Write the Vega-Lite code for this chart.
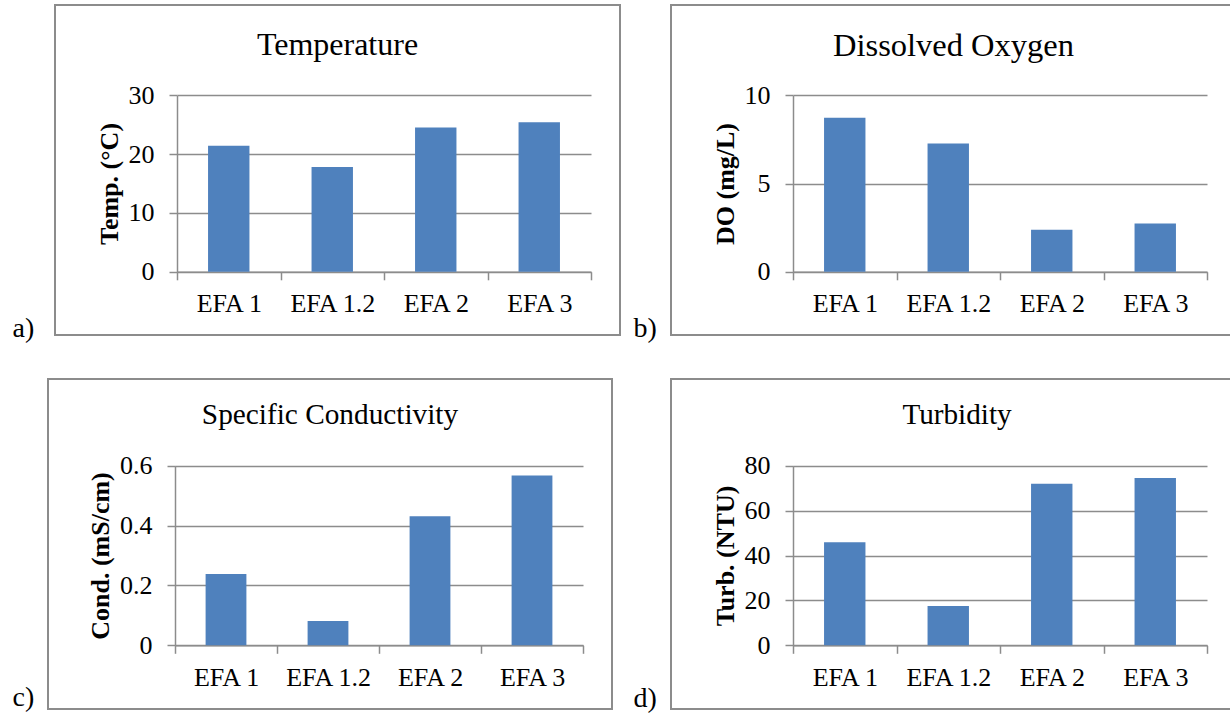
{
  "$schema": "https://vega.github.io/schema/vega-lite/v6.json",
  "background": "white",
  "padding": {"left": 11, "top": 4, "right": 0, "bottom": 0},
  "data": {"values": [
    {"site": "EFA 1", "temp": 21.4, "do": 8.72, "cond": 0.238, "turb": 45.9},
    {"site": "EFA 1.2", "temp": 17.8, "do": 7.26, "cond": 0.081, "turb": 17.5},
    {"site": "EFA 2", "temp": 24.5, "do": 2.38, "cond": 0.431, "turb": 72.0},
    {"site": "EFA 3", "temp": 25.4, "do": 2.73, "cond": 0.567, "turb": 74.5}
  ]},
  "config": {
    "view": {"stroke": "#8c8c8c", "strokeWidth": 2},
    "font": "Liberation Serif",
    "title": {"font": "Liberation Serif", "fontSize": 30, "fontWeight": "normal", "color": "black", "anchor": "middle", "frame": "group", "baseline": "alphabetic"},
    "axis": {
      "labelFont": "Liberation Serif", "labelFontSize": 26, "labelColor": "black",
      "titleFont": "Liberation Serif", "titleFontSize": 26, "titleFontWeight": "bold", "titleColor": "black",
      "domainColor": "#8c8c8c", "domainWidth": 1.5, "tickColor": "#8c8c8c", "tickWidth": 1.5, "tickSize": 8,
      "gridColor": "#8c8c8c", "gridWidth": 1.5
    },
    "axisX": {"grid": false, "labelAngle": 0, "labelPadding": 11, "tickBand": "extent", "titleFontWeight": "normal", "titleFontSize": 28, "titleAlign": "left", "titleBaseline": "alphabetic", "titleAnchor": "start"},
    "axisY": {"grid": true, "labelPadding": 15, "titlePadding": 6},
    "bar": {"color": "#4F81BD"}
  },
  "center": true,
  "spacing": 34,
  "vconcat": [
    {
      "spacing": 11,
      "hconcat": [
        {
          "width": 565, "height": 330,
          "title": {"text": "Temperature", "fontSize": 32, "offset": -57},
          "mark": {"type": "bar", "width": {"band": 0.4}},
          "encoding": {
            "x": {"field": "site", "type": "nominal", "sort": null,
              "scale": {"range": [122, 536], "paddingInner": 0, "paddingOuter": 0},
              "axis": {"offset": -63.2, "title": "a)", "titleX": -43, "titleY": 64.7}},
            "y": {"field": "temp", "type": "quantitative",
              "scale": {"domain": [0, 30], "range": [266.8, 90.2], "nice": false},
              "axis": {"values": [0, 10, 20, 30], "offset": -122, "title": "Temp. (°C)"}}
          }
        },
        {
          "width": 565, "height": 330,
          "title": {"text": "Dissolved Oxygen", "fontSize": 32.5, "offset": -57},
          "mark": {"type": "bar", "width": {"band": 0.4}},
          "encoding": {
            "x": {"field": "site", "type": "nominal", "sort": null,
              "scale": {"range": [122, 536], "paddingInner": 0, "paddingOuter": 0},
              "axis": {"offset": -63.2, "title": "b)", "titleX": -38, "titleY": 64.4}},
            "y": {"field": "do", "type": "quantitative",
              "scale": {"domain": [0, 10], "range": [266.8, 90.2], "nice": false},
              "axis": {"values": [0, 5, 10], "offset": -122, "title": "DO (mg/L)"}}
          }
        }
      ]
    },
    {
      "spacing": 19,
      "hconcat": [
        {
          "width": 564, "height": 330,
          "title": {"text": "Specific Conductivity", "fontSize": 29.3, "offset": -51},
          "mark": {"type": "bar", "width": {"band": 0.4}},
          "encoding": {
            "x": {"field": "site", "type": "nominal", "sort": null,
              "scale": {"range": [127, 535], "paddingInner": 0, "paddingOuter": 0},
              "axis": {"offset": -63.7, "title": "c)", "titleX": -36, "titleY": 59.7}},
            "y": {"field": "cond", "type": "quantitative",
              "scale": {"domain": [0, 0.6], "range": [266.3, 86.7], "nice": false},
              "axis": {"values": [0, 0.2, 0.4, 0.6], "offset": -127, "title": "Cond. (mS/cm)",
                "labelExpr": "datum.value == 0 ? '0' : format(datum.value, '.1f')"}}
          }
        },
        {
          "width": 572, "height": 330,
          "title": {"text": "Turbidity", "fontSize": 29.2, "offset": -51},
          "mark": {"type": "bar", "width": {"band": 0.4}},
          "encoding": {
            "x": {"field": "site", "type": "nominal", "sort": null,
              "scale": {"range": [122, 536], "paddingInner": 0, "paddingOuter": 0},
              "axis": {"offset": -63.7, "title": "d)", "titleX": -38, "titleY": 61.4}},
            "y": {"field": "turb", "type": "quantitative",
              "scale": {"domain": [0, 80], "range": [266.3, 86.7], "nice": false},
              "axis": {"values": [0, 20, 40, 60, 80], "offset": -122, "title": "Turb. (NTU)"}}
          }
        }
      ]
    }
  ]
}
